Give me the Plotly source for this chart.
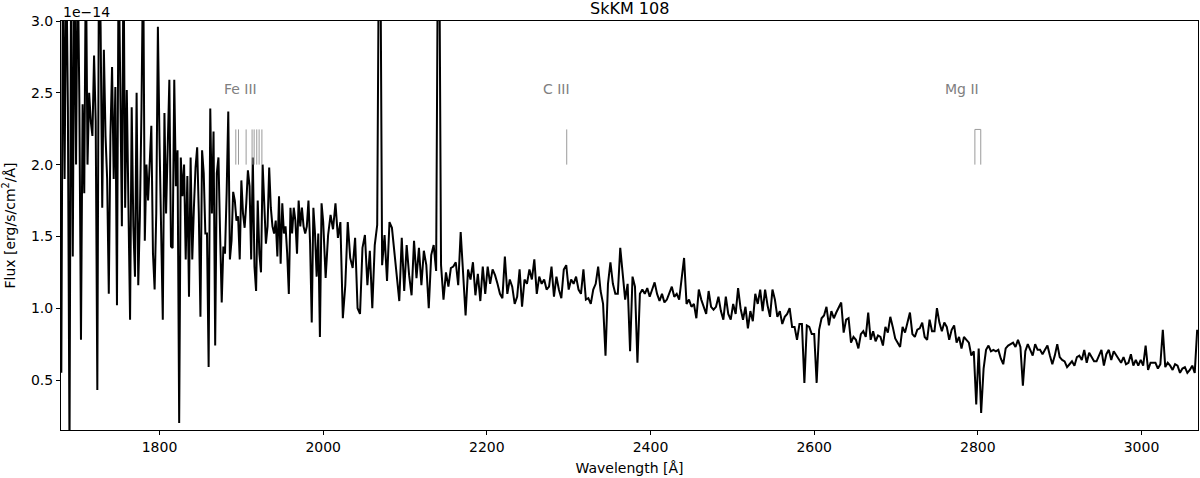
import numpy as np
import plotly.graph_objects as go

# Spectrum, flux in units of 1e-14 erg/s/cm2/A
# Segment A: sampled every 2 A starting at 1680 A
wave_a_start, wave_a_step = 1680, 2
flux_a = [
    0.55, 3.5, 1.9, 3.5, 2.4, 0.0, 3.5, 1.36, 3.5, 2.0,
    3.5, 2.45, 0.78, 2.42, 1.8, 3.5, 2.0, 2.5, 2.3, 2.2,
    2.76, 2.3, 0.43, 3.5, 2.96, 1.7, 2.8, 2.2, 1.9, 1.1,
    2.2, 2.68, 1.9, 2.54, 1.02, 3.5, 2.56, 1.57, 3.5, 1.7,
    2.52, 1.85, 0.92, 2.4, 1.57, 1.22, 2.5, 1.16, 1.64, 2.4,
    3.5, 1.47, 2.0, 1.75, 2.02, 2.27, 1.38, 1.13, 1.66, 2.96,
    2.15, 1.6, 0.92, 2.36, 1.66, 2.12, 2.59, 1.43, 1.42, 2.59,
    1.85, 2.1, 0.2, 2.05, 1.78, 2.0, 1.34, 1.92, 1.08, 2.05,
    1.34, 1.7, 1.98, 2.12, 1.66, 0.94, 2.1, 1.94, 1.52, 1.52,
    0.59, 2.39, 1.66, 2.23, 0.74, 1.94, 2.05, 1.52, 1.04, 1.43,
    1.38, 1.8, 2.37, 1.34, 1.47, 1.81, 1.75, 1.61, 1.64, 1.34,
    1.89, 1.66, 1.56, 1.73, 1.96, 1.85, 1.34, 2.05, 1.29, 1.12,
    1.75, 1.38, 1.25, 2.0, 1.66, 1.45, 1.57, 1.98, 1.7, 1.57,
    1.52, 1.61, 1.36, 1.78, 1.31, 1.73, 1.52, 1.57, 1.38, 1.1,
    1.7, 1.52, 1.7, 1.61, 1.38, 1.75, 1.57, 1.7, 1.57, 1.52,
    1.57, 1.75, 1.45, 0.9, 1.7, 1.52, 1.22, 1.52, 0.8, 1.73,
]
# Segment B: sampled every 3 A starting at 2000 A
wave_b_start, wave_b_step = 2000, 3
flux_b = [
    1.6, 1.21, 1.51, 1.65, 1.55, 1.73, 1.49, 1.6, 0.93, 1.16,
    1.6, 1.35, 1.28, 1.49, 1.0, 0.96, 1.42, 1.51, 1.16, 1.4,
    1.0, 1.44, 1.58, 4.5, 1.3, 1.51, 1.19, 1.6, 1.56, 1.4,
    1.23, 1.05, 1.49, 1.12, 1.44, 1.23, 1.09, 1.47, 1.21, 1.42,
    1.16, 1.4, 1.3, 1.0, 1.37, 1.44, 1.26, 4.5, 1.3, 1.06,
    1.25, 1.15, 1.28, 1.29, 1.32, 1.16, 1.53, 1.27, 0.95, 1.27,
    1.2, 1.32, 1.09, 1.24, 1.05, 1.29, 1.1, 1.29, 1.17, 1.27,
    1.23, 1.17, 1.1, 1.07, 1.36, 1.1, 1.2, 1.15, 1.03, 1.08,
    1.27, 1.01, 1.2, 1.17, 1.27, 1.2, 1.34, 1.1, 1.22, 1.17,
    1.2, 1.13, 1.15, 1.29, 1.08, 1.22, 1.13, 1.07, 1.27, 1.3,
    1.13, 1.2, 1.17, 1.22, 1.13, 1.1, 1.27, 1.06, 1.07, 1.03,
    1.13, 1.17, 1.29, 1.12, 1.03, 0.67, 1.17, 1.32, 1.17, 1.1,
    1.1, 1.42, 1.24, 1.06, 1.17, 0.7, 1.22, 1.15, 0.62, 1.1,
    1.13, 1.1, 1.14, 1.08, 1.13, 1.18, 1.1, 1.05, 1.1, 1.04,
    1.06, 1.1, 1.15, 1.08, 1.1, 1.06, 1.2, 1.35, 1.03, 1.06,
    1.01, 1.03, 0.93, 1.13, 1.06, 1.01, 0.96, 1.12, 1.01, 0.99,
    1.01, 1.08, 0.98, 0.92, 1.08, 0.96, 0.92, 1.03, 0.96, 1.14,
    1.0, 0.92, 1.01, 0.86, 0.98, 0.91, 1.1, 1.03, 1.13, 0.98,
    1.13, 1.02, 0.94, 1.13, 1.06, 0.94, 0.98, 0.89, 0.94, 0.96,
    1.0, 0.87, 0.87, 0.78, 0.89, 0.89, 0.48, 0.88, 0.87, 0.82,
    0.82, 0.48, 0.85, 0.93, 0.95, 1.01, 0.88, 0.98, 0.93, 0.97,
    1.0, 1.04, 0.83, 0.92, 0.93, 0.76, 0.8, 0.78, 0.72, 0.82,
    0.84, 0.8, 0.97, 0.78, 0.84, 0.77, 0.81, 0.8, 0.74, 0.87,
    0.83, 0.94, 0.87, 0.79, 0.76, 0.73, 0.87, 0.83, 0.9, 0.97,
    0.82, 0.8, 0.85, 0.86, 0.9, 0.8, 0.78, 0.92, 0.84, 0.84,
    1.0, 0.9, 0.84, 0.9, 0.87, 0.78, 0.85, 0.88, 0.76, 0.8,
    0.72, 0.8, 0.78, 0.76, 0.67, 0.7, 0.33, 0.72, 0.27, 0.58,
    0.71, 0.74, 0.7, 0.71, 0.7, 0.71, 0.65, 0.61, 0.72, 0.74,
    0.75, 0.76, 0.73, 0.78, 0.73, 0.46, 0.7, 0.75, 0.71, 0.67,
    0.75, 0.71, 0.71, 0.68, 0.71, 0.74, 0.67, 0.61, 0.67, 0.75,
    0.66, 0.64, 0.63, 0.59, 0.61, 0.63, 0.6, 0.66, 0.67, 0.64,
    0.71, 0.62, 0.69, 0.66, 0.63, 0.63, 0.67, 0.71, 0.6, 0.68,
    0.71, 0.64, 0.7, 0.67, 0.64, 0.62, 0.66, 0.61, 0.62, 0.68,
    0.6, 0.64, 0.6, 0.64, 0.6, 0.74, 0.57, 0.62, 0.62, 0.62,
    0.58, 0.61, 0.85, 0.59, 0.62, 0.6, 0.57, 0.61, 0.6, 0.55,
    0.58, 0.59, 0.55, 0.57, 0.6, 0.55, 0.85,
]

# Line identifications
fe3_lines = [1893.2, 1896.5, 1905.8, 1913.1, 1915.6, 1918.8, 1921.7, 1925.1]
c3_lines = [2297.58]
mg2_lines = [2796.35, 2803.53]
labels = ["Fe III", "C III", "Mg II"]
label_wave = [1898.8, 2285.6, 2781.2]
label_flux = 2.53
mark_low, mark_high = 2.0, 2.245

x_ticks = [1800, 2000, 2200, 2400, 2600, 2800, 3000]
y_ticks = [0.5, 1.0, 1.5, 2.0, 2.5, 3.0]
x_range = [1679.6, 3069.0]
y_range = [0.152, 3.0]

wave_a = [wave_a_start + wave_a_step * i for i in range(len(flux_a))]
wave_b = [wave_b_start + wave_b_step * i for i in range(len(flux_b))]
wave = wave_a + wave_b
flux = flux_a + flux_b

FONT = "DejaVu Sans"
fig = go.Figure()

fig.add_trace(go.Scatter(x=wave, y=flux, mode="lines",
                         line=dict(color="black", width=2), showlegend=False,
                         hoverinfo="x+y"))

# Fe III and C III marker lines
mx, my = [], []
for w in fe3_lines + c3_lines:
    mx += [w, w, None]
    my += [mark_low, mark_high, None]
fig.add_trace(go.Scatter(x=mx, y=my, mode="lines",
                         line=dict(color="#9a9a9a", width=1), showlegend=False,
                         hoverinfo="skip"))
# Mg II doublet marker
fig.add_trace(go.Scatter(x=[mg2_lines[0], mg2_lines[0], mg2_lines[1], mg2_lines[1]],
                         y=[mark_low, mark_high, mark_high, mark_low], mode="lines",
                         line=dict(color="#9a9a9a", width=1), showlegend=False,
                         hoverinfo="skip"))

for t, w in zip(labels, label_wave):
    fig.add_annotation(x=w, y=label_flux, text=t, showarrow=False,
                       font=dict(family=FONT, size=14, color="#808080"),
                       xanchor="center", yanchor="middle")

# offset text
fig.add_annotation(xref="paper", yref="paper", x=0, y=1, text="1e\u221214",
                   showarrow=False, xanchor="left", yanchor="bottom", yshift=-1,
                   font=dict(family=FONT, size=14, color="black"))
# title
fig.add_annotation(xref="paper", yref="paper", x=0.5, y=1, text="SkKM 108",
                   showarrow=False, xanchor="center", yanchor="bottom", yshift=1,
                   font=dict(family=FONT, size=16, color="black"))

axis_common = dict(showgrid=False, zeroline=False, showline=True, mirror=True,
                   linecolor="black", linewidth=1, ticks="outside", ticklen=4,
                   tickwidth=1, tickcolor="black",
                   tickfont=dict(family=FONT, size=14, color="black"))

fig.update_layout(
    width=1200, height=478,
    margin=dict(l=61, r=2, t=21, b=48),
    paper_bgcolor="white", plot_bgcolor="white",
    xaxis=dict(range=x_range, tickvals=x_ticks,
               ticktext=[str(v) for v in x_ticks],
               title=dict(text="Wavelength [Å]", standoff=9,
                          font=dict(family=FONT, size=14, color="black")),
               **axis_common),
    yaxis=dict(range=y_range, tickvals=y_ticks,
               ticktext=[f"{v:.1f}" for v in y_ticks],
               title=dict(text="Flux [erg/s/cm<sup>2</sup>/Å]", standoff=13,
                          font=dict(family=FONT, size=14, color="black")),
               **axis_common),
)

fig.write_html("out.html", config={"displayModeBar": False},
               post_script="document.body.style.margin='0';document.body.style.padding='0';")
